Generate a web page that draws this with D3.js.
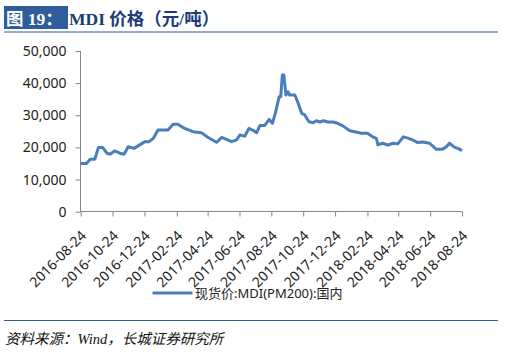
<!DOCTYPE html>
<html>
<head>
<meta charset="utf-8">
<script src="https://cdn.jsdelivr.net/npm/d3@7/dist/d3.min.js"></script>
<style>
  html, body { margin: 0; padding: 0; background: #fff; }
  svg { display: block; }
</style>
</head>
<body>
<div id="chart"></div>
<script>
// MDI spot price, yuan/ton
var dates = [
  "2016-08-24", "2016-09-04", "2016-09-11", "2016-09-20", "2016-09-27", "2016-10-05",
  "2016-10-13", "2016-10-19", "2016-10-28", "2016-11-07", "2016-11-15", "2016-11-23",
  "2016-12-04", "2016-12-15", "2016-12-25", "2017-01-02", "2017-01-10", "2017-01-19",
  "2017-02-07", "2017-02-17", "2017-02-26", "2017-03-11", "2017-03-27", "2017-04-12",
  "2017-04-25", "2017-05-11", "2017-05-21", "2017-05-30", "2017-06-09", "2017-06-18",
  "2017-06-25", "2017-07-04", "2017-07-12", "2017-07-19", "2017-07-27", "2017-08-02",
  "2017-08-11", "2017-08-20", "2017-08-26", "2017-09-01", "2017-09-08", "2017-09-11",
  "2017-09-14", "2017-09-17", "2017-09-21", "2017-09-25", "2017-09-28", "2017-10-08",
  "2017-10-14", "2017-10-21", "2017-10-27", "2017-11-04", "2017-11-12", "2017-11-18",
  "2017-11-25", "2017-12-02", "2017-12-10", "2017-12-20", "2017-12-29", "2018-01-08",
  "2018-01-21", "2018-02-02", "2018-02-12", "2018-02-24", "2018-03-06", "2018-03-13",
  "2018-03-16", "2018-03-25", "2018-04-04", "2018-04-14", "2018-04-23", "2018-05-04",
  "2018-05-14", "2018-05-22", "2018-05-31", "2018-06-10", "2018-06-23", "2018-07-06",
  "2018-07-17", "2018-07-25", "2018-07-31", "2018-08-10", "2018-08-16", "2018-08-24"
];
var prices = [
  15000, 15000, 16300, 16300, 20000, 20000,
  18200, 17900, 18900, 18200, 17900, 20200,
  19700, 20800, 21800, 21800, 22800, 25400,
  25400, 27200, 27200, 25900, 24900, 24600,
  23100, 21600, 23100, 22500, 21800, 22300,
  23900, 23500, 25900, 25400, 24600, 26800,
  26800, 28700, 27500, 30900, 35800, 35800,
  42500, 42500, 36300, 37300, 36300, 36300,
  33900, 30600, 30100, 28000, 27700, 28300,
  27900, 28300, 27900, 27900, 27500, 26700,
  25200, 24800, 24400, 24400, 23300, 22800,
  20800, 21300, 20700, 21300, 21100, 23300,
  22800, 22300, 21500, 21700, 21300, 19400,
  19400, 20200, 21300, 20000, 19700, 19000
];
var xTickDates = [
  "2016-08-24", "2016-10-24", "2016-12-24", "2017-02-24", "2017-04-24", "2017-06-24",
  "2017-08-24", "2017-10-24", "2017-12-24", "2018-02-24", "2018-04-24", "2018-06-24",
  "2018-08-24"
];
var yTicks = [0, 10000, 20000, 30000, 40000, 50000];
var seriesName = "现货价:MDI(PM200):国内";
var titleLabel = "图 19：";
var titleText = "MDI 价格（元/吨）";
var sourceText = "资料来源：Wind，长城证券研究所";

var W = 508, H = 354;
var parseDate = d3.timeParse("%Y-%m-%d");
var data = dates.map(function (d, i) { return { date: parseDate(d), value: prices[i] }; });

var svg = d3.select("#chart").append("svg").attr("width", W).attr("height", H);

// title bar
svg.append("rect").attr("x", 4).attr("y", 6).attr("width", 64).attr("height", 23).attr("fill", "#2f5d9b");
svg.append("text").attr("x", 6).attr("y", 25)
  .attr("fill", "#fff").attr("font-family", "'Liberation Serif','Noto Sans CJK SC',serif")
  .attr("font-weight", "bold").attr("font-size", 17.5).text(titleLabel);
svg.append("text").attr("x", 69).attr("y", 25)
  .attr("fill", "#1b3c78").attr("font-family", "'Liberation Serif','Noto Sans CJK SC',serif")
  .attr("font-weight", "bold").attr("font-size", 17.5).text(titleText);
svg.append("line").attr("x1", 4).attr("x2", 498).attr("y1", 32).attr("y2", 32)
  .attr("stroke", "#2f5d9b").attr("stroke-width", 1.2);

// scales
var x = d3.scaleTime()
  .domain([parseDate(xTickDates[0]), parseDate(xTickDates[xTickDates.length - 1])])
  .range([80.7, 462]);
var y = d3.scaleLinear().domain([0, 50000]).range([211.7, 51]);

var fmt = d3.format(",");

// y axis
var yAxis = svg.append("g").attr("transform", "translate(80.5,0)")
  .call(d3.axisLeft(y).tickValues(yTicks).tickFormat(function (d) { return fmt(d); })
    .tickSize(5).tickPadding(9));
yAxis.select(".domain").attr("stroke", "#868686").attr("d", "M0," + y(50000) + "V" + y(0));
yAxis.selectAll(".tick line").attr("stroke", "#868686");
yAxis.selectAll(".tick text").attr("font-family", "'Noto Sans',sans-serif")
  .attr("font-size", 14).attr("fill", "#222");

// x axis
var xAxis = svg.append("g").attr("transform", "translate(0,211.5)")
  .call(d3.axisBottom(x).tickValues(xTickDates.map(parseDate)).tickSize(5).tickFormat(d3.timeFormat("%Y-%m-%d")));
xAxis.select(".domain").attr("stroke", "#868686").attr("d", "M" + x.range()[0] + ",0H" + x.range()[1]);
xAxis.selectAll(".tick line").attr("stroke", "#868686");
xAxis.selectAll(".tick text")
  .attr("font-family", "'Noto Sans',sans-serif").attr("font-size", 14).attr("fill", "#222")
  .attr("text-anchor", "end").attr("dy", null).attr("y", 0)
  .attr("transform", "translate(6,25) rotate(-45)");

// series line
var line = d3.line().x(function (d) { return x(d.date); }).y(function (d) { return y(d.value); });
svg.append("path").datum(data).attr("d", line)
  .attr("fill", "none").attr("stroke", "#4a7ebb").attr("stroke-width", 3)
  .attr("stroke-linejoin", "round");

// legend
svg.append("line").attr("x1", 152.5).attr("x2", 192.5).attr("y1", 293).attr("y2", 293)
  .attr("stroke", "#4a7ebb").attr("stroke-width", 3);
svg.append("text").attr("x", 195).attr("y", 298)
  .attr("font-family", "'Noto Sans','Noto Sans CJK SC',sans-serif").attr("font-size", 13)
  .attr("fill", "#222").text(seriesName);

// footer
svg.append("line").attr("x1", 4).attr("x2", 498).attr("y1", 320.5).attr("y2", 320.5)
  .attr("stroke", "#2f5d9b").attr("stroke-width", 1.2);
svg.append("text").attr("x", 5).attr("y", 344)
  .attr("font-family", "'Liberation Serif','Noto Sans CJK SC',serif").attr("font-style", "italic")
  .attr("font-size", 14.5).attr("fill", "#111").text(sourceText);
</script>
</body>
</html>
